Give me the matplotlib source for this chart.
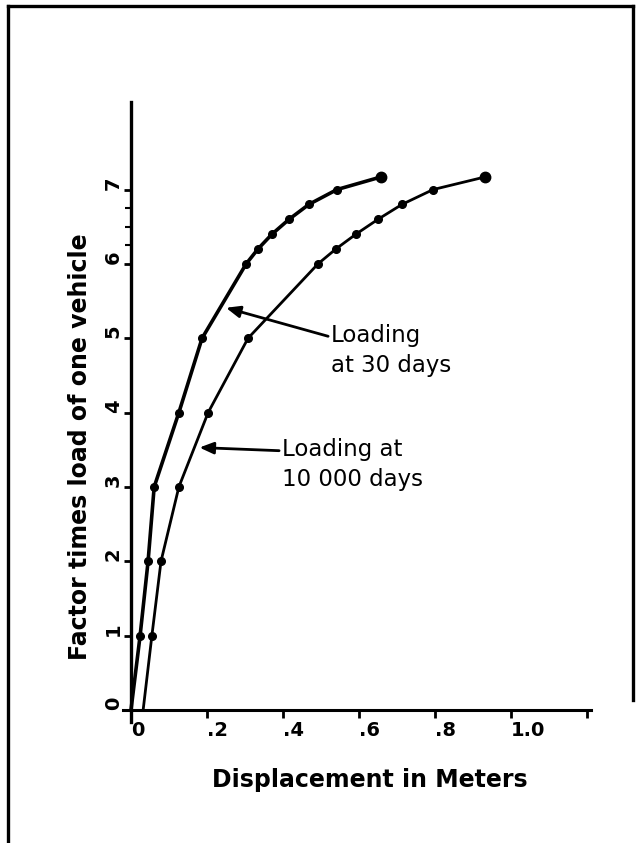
import matplotlib
matplotlib.use('Agg')
import matplotlib.pyplot as plt
from matplotlib.lines import Line2D

# 30 day loading curve (displacement m, load factor)
x30 = [0.0, 0.024, 0.045, 0.061, 0.126, 0.187, 0.303, 0.334, 0.371, 0.416, 0.468, 0.542, 0.658]
y30 = [0.0, 1.0, 2.0, 3.0, 4.0, 5.0, 6.0, 6.2, 6.4, 6.6, 6.8, 7.0, 7.17]

# 10000 day loading curve
x10k = [0.032, 0.055, 0.079, 0.126, 0.203, 0.308, 0.492, 0.539, 0.592, 0.650, 0.713, 0.795, 0.932]
y10k = [0.0, 1.0, 2.0, 3.0, 4.0, 5.0, 6.0, 6.2, 6.4, 6.6, 6.8, 7.0, 7.17]

xticks = [0.0, 0.2, 0.4, 0.6, 0.8, 1.0, 1.2]
xticklabels = ['0', '.2', '.4', '.6', '.8', '1.0', '']
yticks = [0, 1, 2, 3, 4, 5, 6, 7]
yticklabels = ['0', '1', '2', '3', '4', '5', '6', '7']
yminor = [6.25, 6.5, 6.75]

plt.rcParams['font.family'] = ['DejaVu Sans']

fig = plt.figure(figsize=(6.37, 8.43), dpi=100)
ax = fig.add_axes([0.1937, 0.1437, 0.7338, 0.7355])

# curves: dots everywhere except the starting point at zero load
ax.plot(x30, y30, color='black', lw=2.6, marker='o', ms=5.5, markevery=list(range(1, len(x30))))
ax.plot(x30[-1:], y30[-1:], 'o', color='black', ms=7.5)
ax.plot(x10k, y10k, color='black', lw=2.0, marker='o', ms=5.5, markevery=list(range(1, len(x10k))))
ax.plot(x10k[-1:], y10k[-1:], 'o', color='black', ms=7.5)

ax.set_xlim(-0.02, 1.21)
ax.set_ylim(-0.16, 8.18)

for s in ['top', 'right']:
    ax.spines[s].set_visible(False)
ax.spines['left'].set_position(('data', 0))
ax.spines['bottom'].set_position(('data', 0))
ax.spines['left'].set_linewidth(2.4)
ax.spines['bottom'].set_linewidth(2.2)

ax.set_xticks(xticks)
ax.set_xticklabels(xticklabels, ha='left', fontsize=14, fontweight='bold')
ax.set_yticks(yticks)
ax.set_yticklabels(yticklabels, rotation=90, va='bottom', fontsize=14, fontweight='bold')
ax.set_yticks(yminor, minor=True)
ax.tick_params(axis='x', direction='out', length=6, width=2, pad=2)
ax.tick_params(axis='y', which='major', direction='out', length=5, width=2, pad=1)
ax.tick_params(axis='y', which='minor', direction='out', length=4, width=1.5)

fig.text(370 / 637, 1 - 780 / 843, 'Displacement in Meters', ha='center', va='center',
         fontsize=17, fontweight='bold')
fig.text(80 / 637, 1 - 447 / 843, 'Factor times load of one vehicle', ha='center', va='center',
         rotation=90, fontsize=17, fontweight='bold')

arrow = dict(arrowstyle='-|>,head_length=0.6,head_width=0.25', color='black', lw=2.0,
             shrinkA=0, shrinkB=0, mutation_scale=14)
ax.annotate('Loading\nat 30 days', xy=(0.25, 5.41), xytext=(0.526, 4.83),
            ha='left', va='center', fontsize=16.5, linespacing=1.4,
            arrowprops=dict(arrow, relpos=(0, 0.76)))
ax.annotate('Loading at\n10 000 days', xy=(0.18, 3.53), xytext=(0.397, 3.3),
            ha='left', va='center', fontsize=16.5, linespacing=1.4,
            arrowprops=dict(arrow, relpos=(0, 0.76)))

# hand drawn frame around the figure
fig.add_artist(Line2D([8 / 637, 8 / 637], [0, 1 - 6 / 843], color='black', lw=2.4))
fig.add_artist(Line2D([8 / 637, 633 / 637], [1 - 6 / 843, 1 - 6 / 843], color='black', lw=2.4))
fig.add_artist(Line2D([633 / 637, 633 / 637], [1 - 6 / 843, 1 - 700 / 843], color='black', lw=2.4))

fig.savefig('out.png', dpi=100)
